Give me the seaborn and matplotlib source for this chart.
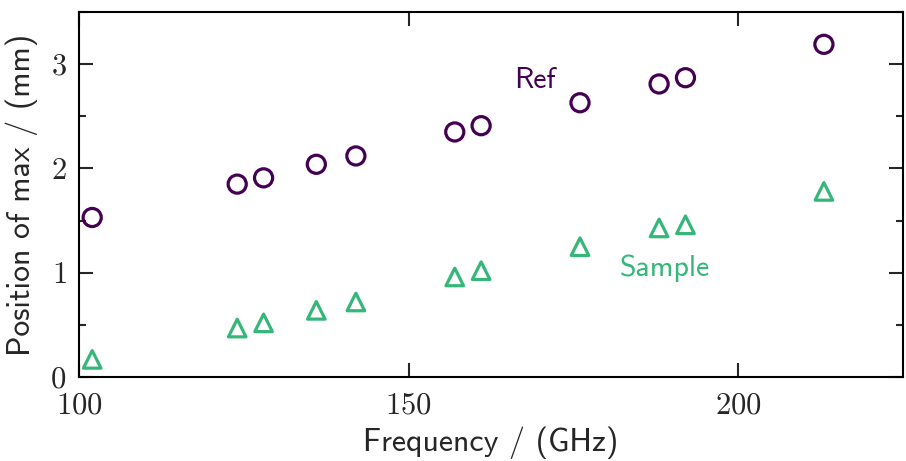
import matplotlib
matplotlib.use("Agg")
import matplotlib.pyplot as plt
import seaborn as sns
import pandas as pd
from matplotlib.ticker import MultipleLocator

# data
freq = [102, 124, 128, 136, 142, 157, 161, 176, 188, 192, 213]
ref_pos = [1.53, 1.85, 1.91, 2.04, 2.12, 2.35, 2.41, 2.63, 2.81, 2.87, 3.19]
sample_pos = [0.17, 0.47, 0.52, 0.64, 0.72, 0.96, 1.02, 1.25, 1.43, 1.46, 1.78]
x_ticks = [100, 150, 200]
y_ticks = [0, 1, 2, 3]

ref_color = "#440154"
sample_color = "#35b779"

sns.set_theme(style="ticks")
plt.rcParams["font.family"] = ["cmr10", "DejaVu Sans"]
plt.rcParams["axes.formatter.use_mathtext"] = True

fig = plt.figure(figsize=(9.06, 4.61), dpi=100)
ax = fig.add_axes([0.0872, 0.182, 0.9095, 0.792])

df_ref = pd.DataFrame({"f": freq, "p": ref_pos})
df_sam = pd.DataFrame({"f": freq, "p": sample_pos})

sns.scatterplot(data=df_ref, x="f", y="p", ax=ax, marker="o", s=170,
                facecolor="none", edgecolor=ref_color, linewidth=2.3, zorder=3)
sns.scatterplot(data=df_sam, x="f", y="p", ax=ax, marker="^", s=160,
                facecolor="none", edgecolor=sample_color, linewidth=2.3, zorder=3)

ax.set_xlim(100, 225)
ax.set_ylim(0, 3.5)
ax.set_xticks(x_ticks)
ax.set_yticks(y_ticks)
ax.yaxis.set_minor_locator(MultipleLocator(0.5))
ax.tick_params(which="both", direction="in", top=True, right=True, width=1.5,
               labelsize=22)
ax.tick_params(axis="x", pad=11)
ax.tick_params(axis="y", pad=9)
ax.tick_params(which="major", length=10)
ax.tick_params(which="minor", length=5)
for lab in ax.get_xticklabels() + ax.get_yticklabels():
    lab.set_fontfamily("cmr10")
for sp in ax.spines.values():
    sp.set_linewidth(1.5)
    sp.set_color("black")

ax.set_xlabel("Frequency / (GHz)", fontfamily="cmss10", fontsize=23)
ax.set_ylabel("Position of max / (mm)", fontfamily="cmss10", fontsize=23)
ax.xaxis.set_label_coords(0.5, -0.135)
ax.yaxis.set_label_coords(-0.05, 0.5)

ax.text(169.1, 2.84, "Ref", color=ref_color, fontfamily="cmss10", fontsize=21.5,
        ha="center", va="center")
ax.text(188.8, 1.04, "Sample", color=sample_color, fontfamily="cmss10", fontsize=21.5,
        ha="center", va="center")

fig.savefig("out.png", dpi=100)
